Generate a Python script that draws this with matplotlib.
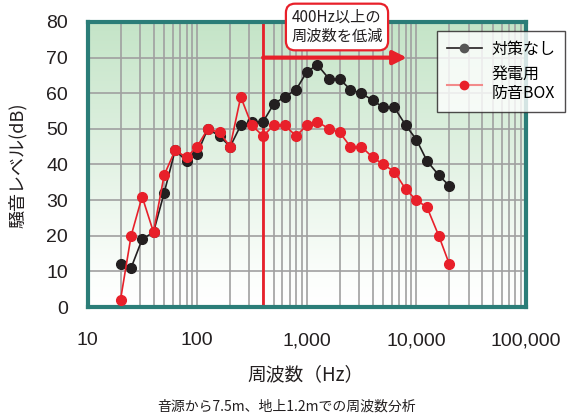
import numpy as np
import matplotlib
matplotlib.use("Agg")
import matplotlib.pyplot as plt
from matplotlib.lines import Line2D
from matplotlib.colors import LinearSegmentedColormap

plt.rcParams['font.family'] = ['Noto Sans CJK JP', 'DejaVu Sans']

freqs = [20, 25, 31.5, 40, 50, 63, 80, 100, 125, 160, 200, 250, 315, 400, 500, 630,
         800, 1000, 1250, 1600, 2000, 2500, 3150, 4000, 5000, 6300, 8000, 10000,
         12500, 16000, 20000]
no_measure = [12, 11, 19, 21, 32, 44, 41, 43, 50, 48, 45, 51, 52, 52, 57, 59,
              61, 66, 68, 64, 64, 61, 60, 58, 56, 56, 51, 47, 41, 37, 34]
box = [2, 20, 31, 21, 37, 44, 42, 45, 50, 49, 45, 59, 51, 48, 51, 51,
       48, 51, 52, 50, 49, 45, 45, 42, 40, 38, 33, 30, 28, 20, 12]
xticks = [10, 100, 1000, 10000, 100000]
xticklabels = ['10', '100', '1,000', '10,000', '100,000']
yticks = [0, 10, 20, 30, 40, 50, 60, 70, 80]
cut_freq = 400
arrow_end = 8200
arrow_level = 70

RED = '#e8202a'
BLK = '#231f20'
TEAL = '#2b7d78'
GRID = '#a0a0a0'

W, H = 568, 419
fig = plt.figure(figsize=(W / 100, H / 100), dpi=100)
L, R, T, B = 87.5, 526, 22, 307
ax = fig.add_axes([L / W, 1 - B / H, (R - L) / W, (B - T) / H])

ax.set_xscale('log')
ax.set_xlim(10, 100000)
ax.set_ylim(0, 80)

# gradient background
cmap = LinearSegmentedColormap.from_list('g', [(0, '#ffffff'), (0.1, '#fcfefc'), (1, '#c4e4c7')])
grad = np.linspace(0, 1, 256).reshape(-1, 1)
ax.imshow(grad, extent=[0, 1, 0, 1], transform=ax.transAxes, origin='lower',
          aspect='auto', cmap=cmap, zorder=0, interpolation='bilinear')

ax.set_xticks(xticks)
ax.set_xticklabels(xticklabels)
ax.set_yticks(yticks)
ax.grid(True, which='both', axis='x', color=GRID, lw=1.2, zorder=1)
ax.grid(True, which='major', axis='y', color=GRID, lw=1.2, zorder=1)
ax.set_axisbelow(True)
ax.tick_params(axis='both', which='both', length=0, labelsize=14, colors='#231f20')
ax.tick_params(axis='y', pad=14)
ax.tick_params(axis='x', pad=18)
for lab in ax.get_xticklabels() + ax.get_yticklabels():
    lab.set_family(['Liberation Sans', 'DejaVu Sans'])
for s in ax.spines.values():
    s.set_color(TEAL)
    s.set_linewidth(3)

# 400 Hz line and arrow
ax.axvline(cut_freq, color=RED, lw=2, zorder=2)
ax.annotate('', xy=(arrow_end, arrow_level), xytext=(cut_freq, arrow_level),
            arrowprops=dict(arrowstyle='-|>,head_length=0.8,head_width=0.4',
                            color=RED, lw=3, shrinkA=0, shrinkB=0), zorder=3)

ax.plot(freqs, no_measure, '-o', color=BLK, lw=1.2, ms=7, zorder=4)
ax.plot(freqs, box, '-o', color=RED, lw=1.2, ms=7, zorder=5)

# annotation box
fig.text(337 / W, 1 - 27 / H, '400Hz以上の\n周波数を低減', ha='center', va='center',
         fontsize=11, linespacing=1.15, color='#231f20',
         bbox=dict(boxstyle='round,pad=0.35,rounding_size=0.6', fc='white',
                   ec=RED, lw=1.6), zorder=10)

# legend
handles = [Line2D([0], [0], color=BLK, marker='o', lw=1.2, ms=6, mfc='#555555', mec='#555555'),
           Line2D([0], [0], color='#f28b8b', marker='o', lw=1.5, ms=6, mfc=RED, mec=RED)]
leg = fig.legend(handles, ['対策なし', '発電用\n防音BOX'], loc='upper left',
                 bbox_to_anchor=(437 / W, 1 - 31 / H), fontsize=11.5, frameon=True,
                 fancybox=False, handlelength=2.2, borderpad=0.6, labelspacing=0.5,
                 handletextpad=0.6, borderaxespad=0)
leg.get_frame().set_edgecolor('#231f20')
leg.get_frame().set_linewidth(1.0)
leg.set_zorder(10)

fig.text(18 / W, 1 - 165 / H, '騒音レベル(dB)', rotation=90, ha='center', va='center',
         fontsize=13, color='#231f20')
fig.text(306 / W, 1 - 375 / H, '周波数（Hz）', ha='center', va='center',
         fontsize=13.5, color='#231f20')
fig.text(287 / W, 1 - 407 / H, '音源から7.5m、地上1.2mでの周波数分析', ha='center', va='center',
         fontsize=10, color='#231f20')

fig.savefig('out.png', dpi=100)
